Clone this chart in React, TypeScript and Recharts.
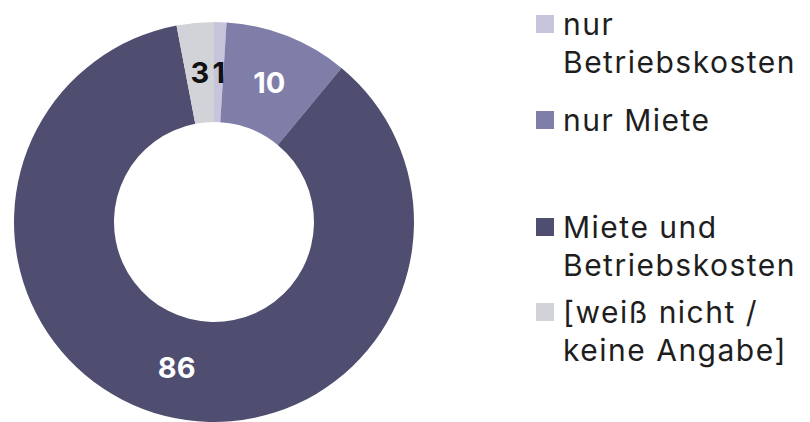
import React from "react";
import { PieChart, Pie, Cell, Legend } from "recharts";

const categories = [
  "nur\nBetriebskosten",
  "nur Miete",
  "Miete und\nBetriebskosten",
  "[weiß nicht /\nkeine Angabe]",
];
const values = [1, 10, 86, 3];

const sliceColors = ["#c6c5dc", "#7f7ea9", "#4f4e70", "#d2d3d8"];
const labelColors = ["#111111", "#ffffff", "#ffffff", "#111111"];
const legendTops = [5, 101, 208, 293];

const data = categories.map((name, i) => ({ name, value: values[i] }));

const RAD = Math.PI / 180;
const FONT = "Inter, 'Open Sans', sans-serif";

const renderLabel = (props: any) => {
  const { cx, cy, midAngle, innerRadius, outerRadius, value, index } = props;
  const r = (innerRadius + outerRadius) / 2;
  const x = cx + r * Math.cos(-midAngle * RAD);
  const y = cy + r * Math.sin(-midAngle * RAD);
  return (
    <text
      x={x}
      y={y}
      fill={labelColors[index]}
      textAnchor="middle"
      dominantBaseline="central"
      fontFamily={FONT}
      fontWeight={700}
      fontSize={29}
    >
      {value}
    </text>
  );
};

const renderLegend = () => {
  return (
    <div style={{ position: "relative", width: 280, height: 422, fontFamily: FONT }}>
      {data.map((entry, i) => (
        <div
          key={i}
          style={{
            position: "absolute",
            left: 0,
            top: legendTops[i],
            display: "flex",
            alignItems: "flex-start",
          }}
        >
          <div
            style={{
              width: 18,
              height: 18,
              background: sliceColors[i],
              marginTop: 10,
              marginRight: 9,
              flex: "none",
            }}
          />
          <div
            style={{
              whiteSpace: "pre-line",
              fontSize: 30,
              letterSpacing: "1.5px",
              lineHeight: "38px",
              color: "#1e1e1e",
            }}
          >
            {entry.name}
          </div>
        </div>
      ))}
    </div>
  );
};

export default function App() {
  return (
    <div style={{ position: "absolute", left: 0, top: 0, background: "#fff" }}>
      <PieChart width={810} height={422} margin={{ top: 0, right: 0, bottom: 0, left: 0 }}>
        <Pie
          data={data}
          dataKey="value"
          nameKey="name"
          cx={214}
          cy={222}
          innerRadius={100}
          outerRadius={200}
          startAngle={90}
          endAngle={-270}
          stroke="none"
          isAnimationActive={false}
          labelLine={false}
          label={renderLabel}
        >
          {data.map((_, i) => (
            <Cell key={i} fill={sliceColors[i]} />
          ))}
        </Pie>
        <Legend
          layout="vertical"
          content={renderLegend}
          wrapperStyle={{ position: "absolute", left: 536, top: 0, width: 280 }}
        />
      </PieChart>
    </div>
  );
}
